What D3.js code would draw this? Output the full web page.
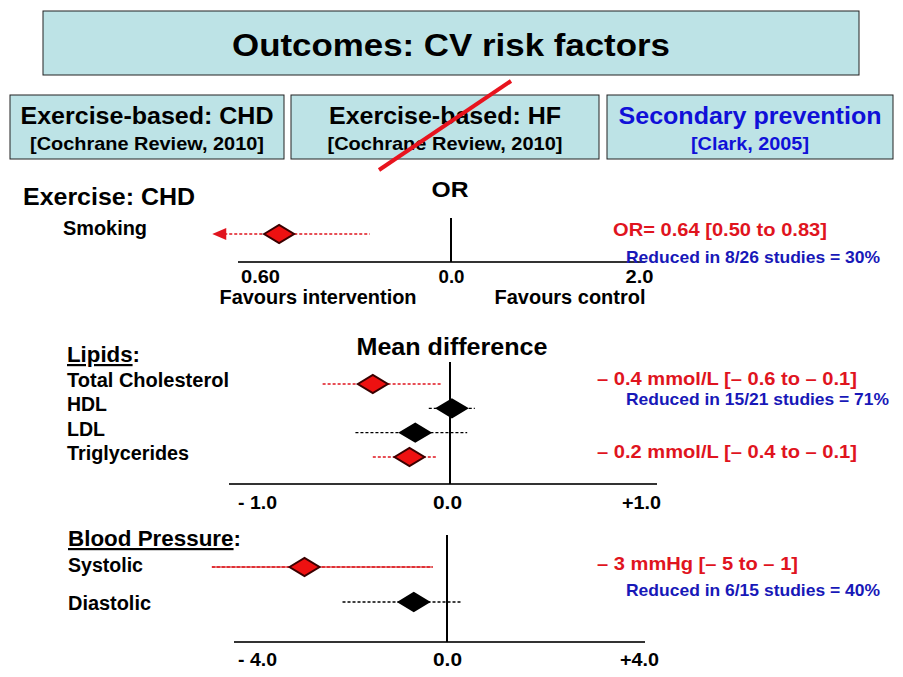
<!DOCTYPE html>
<html><head><meta charset="utf-8">
<script src="https://cdn.jsdelivr.net/npm/d3@7"></script>
<style>body{margin:0;background:#fff}svg{display:block}text{font-family:"Liberation Sans",Arial,sans-serif;font-weight:bold}</style>
</head><body><svg id="c" width="903" height="677"></svg>
<script>
// ---- data ----
const orRows = ["Smoking"];
const orMean = [0.64];
const orLow = [0.50];
const orHigh = [0.83];
const orTickValues = [0.6, 1, 2];
const orTickLabels = ["0.60", "0.0", "2.0"];

const lipidRows = ["Total Cholesterol", "HDL", "LDL", "Triglycerides"];
const lipidMean = [-0.40, 0.01, -0.18, -0.21];
const lipidLow = [-0.66, -0.11, -0.49, -0.40];
const lipidHigh = [-0.04, 0.13, 0.09, -0.07];
const lipidSignificant = [true, false, false, true];
const lipidTickValues = [-1, 0, 1];
const lipidTickLabels = ["- 1.0", "0.0", "+1.0"];

const bpRows = ["Systolic", "Diastolic"];
const bpMean = [-3.0, -0.7];
const bpLow = [-4.95, -2.2];
const bpHigh = [-0.3, 0.3];
const bpSignificant = [true, false];
const bpTickValues = [-4, 0, 4];
const bpTickLabels = ["- 4.0", "0.0", "+4.0"];

// ---- drawing ----
const svg = d3.select("#c");
const RED = "#e0141e", BLUE = "#1818b8", BOXFILL = "#bde3e6";

function txt(s, x, y, size, opts = {}) {
  const t = svg.append("text").attr("x", x).attr("y", y).attr("font-size", size)
    .attr("fill", opts.fill || "#000").attr("text-anchor", opts.anchor || "start").text(s);
  if (opts.len) t.attr("textLength", opts.len).attr("lengthAdjust", "spacingAndGlyphs");
  return t;
}

// title box
svg.append("rect").attr("x", 43).attr("y", 11).attr("width", 816).attr("height", 64)
  .attr("fill", BOXFILL).attr("stroke", "#222").attr("stroke-width", 1);
txt("Outcomes: CV risk factors", 451, 56, 32, {anchor: "middle", len: 438});

// three boxes
const boxes = [
  {x: 10, w: 274, l1: "Exercise-based: CHD", l2: "[Cochrane Review, 2010]", w1: 253, w2: 234, c: "#000"},
  {x: 291, w: 308, l1: "Exercise-based: HF", l2: "[Cochrane Review, 2010]", w1: 232, w2: 235, c: "#000"},
  {x: 607, w: 286, l1: "Secondary prevention", l2: "[Clark, 2005]", w1: 263, w2: 118, c: "#1010d8"}
];
boxes.forEach(b => {
  svg.append("rect").attr("x", b.x).attr("y", 95).attr("width", b.w).attr("height", 64)
    .attr("fill", BOXFILL).attr("stroke", "#222").attr("stroke-width", 1);
  txt(b.l1, b.x + b.w / 2, 124, 23, {anchor: "middle", len: b.w1, fill: b.c});
  txt(b.l2, b.x + b.w / 2, 150, 19, {anchor: "middle", len: b.w2, fill: b.c});
});
// strike-through on HF box
svg.append("line").attr("x1", 511).attr("y1", 81).attr("x2", 379).attr("y2", 170)
  .attr("stroke", "#e8141e").attr("stroke-width", 4);

function diamond(g, cx, cy, fill) {
  g.append("path").attr("d", `M${cx-15},${cy} L${cx},${cy-9} L${cx+15},${cy} L${cx},${cy+9} Z`)
    .attr("fill", fill).attr("stroke", fill === "#000" ? "#000" : "#3a0000").attr("stroke-width", 2)
    .attr("stroke-linejoin", "miter");
}

function panel(cfg) {
  const g = svg.append("g");
  const x = d3.scaleLinear().domain(cfg.domain).range(cfg.range);
  const y = d3.scalePoint().domain(cfg.rows).range(cfg.yRange);
  // axis baseline
  g.append("line").attr("x1", cfg.axisX[0]).attr("x2", cfg.axisX[1])
    .attr("y1", cfg.axisY).attr("y2", cfg.axisY).attr("stroke", "#333").attr("stroke-width", 2);
  // tick labels through d3 axis
  const ax = d3.axisBottom(x).tickValues(cfg.tickValues).tickSize(0)
    .tickFormat((d, i) => cfg.tickLabels[i]);
  const ag = g.append("g").attr("transform", `translate(0,${cfg.axisY})`).call(ax);
  ag.select(".domain").remove();
  ag.selectAll("text").attr("font-size", 19).attr("fill", "#000").attr("dy", 0)
    .attr("y", cfg.tickY - cfg.axisY).attr("dx", (d, i) => cfg.tickDx[i])
    .attr("textLength", (d, i) => cfg.tickW[i]).attr("lengthAdjust", "spacingAndGlyphs")
    .attr("font-family", '"Liberation Sans",Arial,sans-serif').attr("font-weight", "bold");
  // reference line
  g.append("line").attr("x1", x(cfg.ref)).attr("x2", x(cfg.ref)).attr("y1", cfg.refTop).attr("y2", cfg.axisY)
    .attr("stroke", "#000").attr("stroke-width", 2);
  // CI lines and diamonds
  cfg.rows.forEach((r, i) => {
    const col = cfg.sig[i] ? RED : "#000";
    const cy = y(r);
    if (cfg.solid && cfg.solid[i]) {
      g.append("line").attr("x1", x(cfg.low[i])).attr("x2", x(cfg.high[i])).attr("y1", cy).attr("y2", cy)
        .attr("stroke", "#c00").attr("stroke-width", 1);
    }
    g.append("line").attr("x1", x(cfg.low[i]) + (cfg.arrow ? 12 : 0)).attr("x2", x(cfg.high[i]))
      .attr("y1", cy).attr("y2", cy).attr("stroke", col).attr("stroke-width", 1.3)
      .attr("stroke-dasharray", "3,2");
    if (cfg.arrow) {
      const ax0 = x(cfg.low[i]);
      g.append("path").attr("d", `M${ax0},${cy} L${ax0+14},${cy-6} L${ax0+14},${cy+6} Z`).attr("fill", RED);
    }
    diamond(g, x(cfg.mean[i]), cy, cfg.sig[i] ? "#ee1111" : "#000");
  });
  return {x, y};
}

// ---- OR panel ----
txt("Exercise: CHD", 23, 205, 23, {len: 172});
txt("OR", 450, 197, 22, {anchor: "middle", len: 37});
txt("Smoking", 63, 235, 20, {len: 84});
panel({
  rows: orRows, mean: orMean, low: orLow, high: orHigh, sig: [true], arrow: true,
  domain: [0.6, 1, 2], range: [260, 451, 639], yRange: [234, 234],
  axisX: [238, 645], axisY: 262, tickY: 283, tickValues: orTickValues, tickLabels: orTickLabels,
  tickW: [39, 26, 28], tickDx: [0, 0, 0], ref: 1, refTop: 218
});
txt("Favours intervention", 318, 304, 20, {anchor: "middle", len: 197});
txt("Favours control", 570, 304, 20, {anchor: "middle", len: 151});
txt("OR= 0.64 [0.50 to 0.83]", 613, 236, 19, {fill: RED, len: 214});
txt("Reduced in 8/26 studies = 30%", 626, 263, 17, {fill: BLUE, len: 254});

// ---- Lipids panel ----
txt("Mean difference", 452, 355, 23, {anchor: "middle", len: 191});
const lt = svg.append("text").attr("x", 67).attr("y", 362).attr("font-size", 22)
  .attr("textLength", 73).attr("lengthAdjust", "spacingAndGlyphs");
lt.append("tspan").attr("text-decoration", "underline").text("Lipids");
lt.append("tspan").text(":");
const lipidY = d3.scalePoint().domain(lipidRows).range([387, 460]);
const lipidLabelW = [162, 40, 38, 122];
lipidRows.forEach((r, i) => txt(r, 67, lipidY(r), 20, {len: lipidLabelW[i]}));
panel({
  rows: lipidRows, mean: lipidMean, low: lipidLow, high: lipidHigh, sig: lipidSignificant,
  domain: [-1, 0, 1], range: [257, 450, 641], yRange: [384, 457],
  axisX: [229, 657], axisY: 484, tickY: 509, tickValues: lipidTickValues, tickLabels: lipidTickLabels,
  tickW: [39, 29, 39], tickDx: [0, -3, 0], ref: 0, refTop: 362
});
txt("– 0.4 mmol/L [– 0.6 to – 0.1]", 597, 385, 19, {fill: RED, len: 260});
txt("Reduced in 15/21 studies = 71%", 626, 405, 17, {fill: BLUE, len: 263});
txt("– 0.2 mmol/L [– 0.4 to – 0.1]", 597, 458, 19, {fill: RED, len: 260});

// ---- Blood pressure panel ----
const bt = svg.append("text").attr("x", 68).attr("y", 546).attr("font-size", 22)
  .attr("textLength", 173).attr("lengthAdjust", "spacingAndGlyphs");
bt.append("tspan").attr("text-decoration", "underline").text("Blood Pressure");
bt.append("tspan").text(":");
const bpLabelY = [572, 610];
const bpLabelW = [75, 83];
bpRows.forEach((r, i) => txt(r, 68, bpLabelY[i], 20, {len: bpLabelW[i]}));
panel({
  rows: bpRows, mean: bpMean, low: bpLow, high: bpHigh, sig: bpSignificant, solid: [true, false],
  domain: [-4, 0, 4], range: [257, 447, 639], yRange: [567, 602],
  axisX: [234, 645], axisY: 642, tickY: 666, tickValues: bpTickValues, tickLabels: bpTickLabels,
  tickW: [39, 29, 39], tickDx: [0, 0, 0], ref: 0, refTop: 535
});
txt("– 3 mmHg [– 5 to – 1]", 597, 570, 19, {fill: RED, len: 201});
txt("Reduced in 6/15 studies = 40%", 626, 596, 17, {fill: BLUE, len: 254});
</script></body></html>
